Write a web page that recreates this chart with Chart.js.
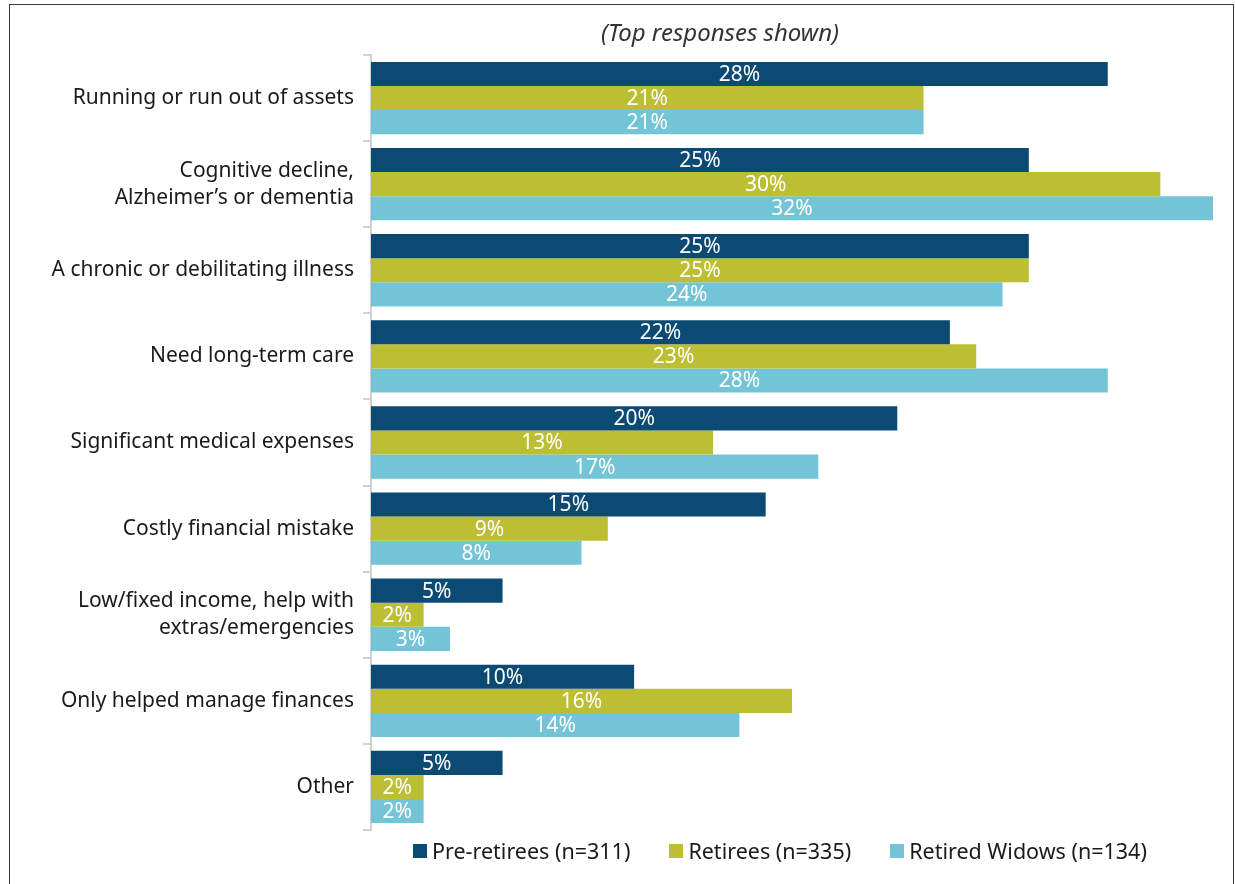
<!DOCTYPE html>
<html>
<head>
<meta charset="utf-8">
<script src="https://cdn.jsdelivr.net/npm/chart.js@4"></script>
<style>
  html, body { margin: 0; padding: 0; background: #fff; }
  body { width: 1235px; height: 884px; position: relative; overflow: hidden; font-family: "Noto Sans", sans-serif; }
  #frame { position: absolute; left: 9px; top: 4px; width: 1225px; height: 900px; border: 1.5px solid #3a3a3a; box-sizing: border-box; }
  #wrap { position: absolute; left: 0; top: 0; width: 1235px; height: 884px; }
  #title { position: absolute; left: 470px; width: 500px; top: 15px; text-align: center; font-style: italic; font-size: 24px; color: #333; }
  #legend { position: absolute; left: 413px; top: 836px; display: flex; gap: 39px; font-size: 21.5px; color: #1a1a1a; }
  #legend span.item { display: flex; align-items: center; }
  #legend span.box { width: 14px; height: 14px; margin-right: 5px; display: inline-block; }
</style>
</head>
<body>
<div id="frame"></div>
<div id="wrap"><canvas id="chart"></canvas></div>
<div id="title">(Top responses shown)</div>
<div id="legend"></div>
<script>
// categorias (eje vertical)
const categories = [
  "Running or run out of assets",
  ["Cognitive decline,", "Alzheimer\u2019s or dementia"],
  "A chronic or debilitating illness",
  "Need long-term care",
  "Significant medical expenses",
  "Costly financial mistake",
  ["Low/fixed income, help with", "extras/emergencies"],
  "Only helped manage finances",
  "Other",
];

const seriesNames = ["Pre-retirees (n=311)", "Retirees (n=335)", "Retired Widows (n=134)"];
const seriesColors = ["#0a4a73", "#bcbf34", "#73c4d6"];

// valores en %
const preRetirees = [28, 25, 25, 22, 20, 15, 5, 10, 5];
const retirees = [21, 30, 25, 23, 13, 9, 2, 16, 2];
const retiredWidows = [21, 32, 24, 28, 17, 8, 3, 14, 2];

const FONT = "Noto Sans";

// etiquetas blancas dentro de cada barra
const barLabels = {
  id: "barLabels",
  afterDatasetsDraw(chart) {
    const ctx = chart.ctx;
    ctx.save();
    ctx.fillStyle = "#ffffff";
    ctx.font = "21px '" + FONT + "'";
    ctx.textAlign = "center";
    ctx.textBaseline = "middle";
    chart.data.datasets.forEach((ds, i) => {
      chart.getDatasetMeta(i).data.forEach((bar, j) => {
        const cx = (bar.base + bar.x) / 2;
        ctx.fillText(ds.data[j] + "%", cx, bar.y + 1);
      });
    });
    ctx.restore();
  },
};

const seriesData = [preRetirees, retirees, retiredWidows];

new Chart(document.getElementById("chart"), {
  type: "bar",
  data: {
    labels: categories,
    datasets: seriesData.map((d, i) => ({
      label: seriesNames[i],
      data: d,
      backgroundColor: seriesColors[i],
      borderWidth: 0,
      categoryPercentage: 0.84,
      barPercentage: 1.0,
    })),
  },
  options: {
    indexAxis: "y",
    responsive: true,
    maintainAspectRatio: false,
    animation: false,
    layout: {
      padding: { top: 55, bottom: 54, left: 10, right: 22 },
    },
    plugins: {
      legend: { display: false },
      tooltip: { enabled: false },
    },
    scales: {
      x: {
        display: false,
        min: 0,
        max: 32,
      },
      y: {
        afterFit(scale) {
          scale.width = 361;
        },
        grid: {
          offset: true,
          drawOnChartArea: false,
          drawTicks: true,
          tickLength: 8,
          color: "#d0d0d0",
          lineWidth: 2,
        },
        border: { display: true, color: "#d0d0d0", width: 2 },
        ticks: {
          padding: 9,
          color: "#1a1a1a",
          font: { size: 21, family: FONT, lineHeight: 1.3 },
        },
      },
    },
  },
  plugins: [barLabels],
});

// leyenda en HTML
const legend = document.getElementById("legend");
seriesNames.forEach((name, i) => {
  const item = document.createElement("span");
  item.className = "item";
  const box = document.createElement("span");
  box.className = "box";
  box.style.background = seriesColors[i];
  item.appendChild(box);
  item.appendChild(document.createTextNode(name));
  legend.appendChild(item);
});
</script>
</body>
</html>
